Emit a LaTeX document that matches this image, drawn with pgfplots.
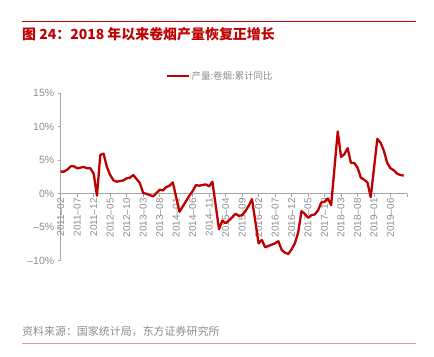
\documentclass[border=0pt]{standalone}
\usepackage{fontspec}
\setmainfont{Liberation Sans}
\newfontfamily\cjk{Noto Sans CJK SC}
\usepackage{pgfplots}
\pgfplotsset{compat=1.18}
\definecolor{lred}{HTML}{C00000}
\definecolor{tgray}{HTML}{8C8C8C}
\definecolor{agray}{HTML}{A6A6A6}
\pgfplotstableread{
m v
0 3.3
1 3.3
2 3.6
3 4.1
4 4.1
5 3.8
6 3.9
7 4.0
8 3.8
9 3.8
10 3.0
11 -0.3
12 5.8
13 6.0
14 4.0
15 2.8
16 2.0
17 1.8
18 1.9
19 2.0
20 2.3
21 2.4
22 2.8
23 2.2
24 1.6
25 0.1
26 0.0
27 -0.2
28 -0.4
29 0.1
30 0.6
31 0.5
32 1.0
33 1.2
34 1.7
36 -2.7
37 -1.9
38 -1.1
39 -0.3
40 0.4
41 1.3
42 1.2
43 1.3
44 1.4
45 1.1
46 1.8
48 -5.3
49 -4.0
50 -4.4
51 -4.0
52 -3.5
53 -3.0
54 -3.3
55 -3.2
56 -2.6
57 -1.8
58 -0.8
60 -7.4
61 -6.9
62 -8.0
63 -7.8
64 -7.6
65 -7.4
66 -7.1
67 -8.4
68 -8.8
69 -9.0
70 -8.3
71 -7.4
72 -5.8
73 -2.6
74 -3.0
75 -3.6
76 -3.2
77 -3.1
78 -2.5
79 -1.3
80 -1.2
81 -0.7
82 -1.7
84 9.3
85 5.5
86 5.9
87 6.8
88 4.6
89 4.6
90 3.9
91 2.4
92 2.1
93 1.7
94 -0.5
96 8.2
97 7.6
98 6.4
99 4.6
100 3.8
101 3.5
102 3.0
103 2.8
104 2.7
}\cig
\begin{document}
\begin{tikzpicture}[x=1bp,y=1bp]
\path[use as bounding box] (0,0) rectangle (434,356);
\draw[lred, line width=0.8bp] (22,335) -- (416,335);
\node[anchor=base west, inner sep=0, text=lred, font=\cjk\bfseries\fontsize{14}{14}\selectfont] at (22,317) {图\ 24：2018 年以来卷烟产量恢复正增长};
\node[anchor=base west, inner sep=0, text=tgray, font=\cjk\fontsize{11}{11}\selectfont] at (22,20.5) {资料来源：国家统计局，东方证券研究所};
\draw[lred!40, line width=0.8bp] (22,12.5) -- (416,12.5);
\begin{axis}[
  at={(60.7bp,95.3bp)}, anchor=south west, scale only axis,
  width=346.3bp, height=167.4bp,
  xmin=0, xmax=105, ymin=-10, ymax=15,
  axis x line=middle, axis y line=left,
  axis line style={agray, -, line width=0.8bp},
  tick style={agray, line width=0.8bp},
  major tick length=3bp, tick align=outside,
  hide obscured x ticks=false, hide obscured y ticks=false,
  xtick={0,5,...,105},
  xticklabels={2011–02,2011–07,2011–12,2012–05,2012–10,2013–03,2013–08,2014–01,2014–06,2014–11,2015–04,2015–09,2016–02,2016–07,2016–12,2017–05,2017–10,2018–03,2018–08,2019–01,2019–06,{}},
  xticklabel style={rotate=90, anchor=east, font=\fontsize{10}{10}\selectfont, text=tgray, inner sep=1.5bp},
  ytick={-10,-5,0,5,10,15},
  yticklabels={–10\%,–5\%,0\%,5\%,10\%,15\%},
  yticklabel style={font=\fontsize{10.5}{10.5}\selectfont, text=tgray},
  clip=false,
  legend style={at={(0.46,1.103)}, anchor=center, draw=none, fill=none,
    font=\cjk\fontsize{9.5}{9.5}\selectfont, text=tgray, inner sep=0pt},
  legend image code/.code={\draw[#1] (0bp,0bp) -- (22bp,0bp);},
]
\addplot[lred, line width=2.3bp, mark=none, line join=round] table[x=m, y=v] {\cig};
\addlegendentry{产量:卷烟:累计同比}
\end{axis}
\end{tikzpicture}
\end{document}
